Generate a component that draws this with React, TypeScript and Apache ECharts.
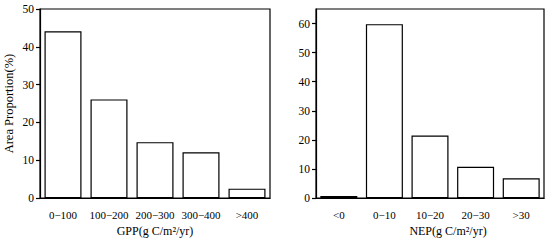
import React, { useEffect, useRef } from "react";
import * as echarts from "echarts";

const gppCategories = ["0−100", "100−200", "200−300", "300−400", ">400"];
const gppValues = [44.1, 26.1, 14.8, 12.1, 2.5];
const nepCategories = ["<0", "0−10", "10−20", "20−30", ">30"];
const nepValues = [0.7, 59.8, 21.5, 10.8, 6.8];
const gppTicks = [0, 10, 20, 30, 40, 50];
const nepTicks = [0, 10, 20, 30, 40, 50, 60];

const FONT = "Liberation Serif";

export default function App() {
  const ref = useRef<HTMLDivElement>(null);
  useEffect(() => {
    document.body.style.margin = "0";
    const chart = echarts.init(ref.current!, null, { renderer: "svg" });
    const axisLine = { show: true, lineStyle: { color: "#000", width: 1.2 } };
    const xLabel = { color: "#000", fontFamily: FONT, fontSize: 11, margin: 11, interval: 0, hideOverlap: false };
    const yLabel = { color: "#000", fontFamily: FONT, fontSize: 11.5, margin: 6 };
    const barStyle = { color: "#fff", borderColor: "#000", borderWidth: 1.2 };
    chart.setOption({
      animation: false,
      backgroundColor: "#fff",
      grid: [
        { left: 40, right: 280, top: 9, bottom: 41, show: true, borderColor: "#000", borderWidth: 1.2, backgroundColor: "transparent" },
        { left: 316, right: 6, top: 9, bottom: 41, show: true, borderColor: "#000", borderWidth: 1.2, backgroundColor: "transparent" },
      ],
      xAxis: [
        {
          type: "category", gridIndex: 0, data: gppCategories,
          axisLine, axisTick: { show: false }, axisLabel: xLabel,
          name: "GPP(g C/m²/yr)", nameLocation: "middle", nameGap: 24,
          nameTextStyle: { color: "#000", fontFamily: FONT, fontSize: 12 },
        },
        {
          type: "category", gridIndex: 1, data: nepCategories,
          axisLine, axisTick: { show: false }, axisLabel: xLabel,
          name: "NEP(g C/m²/yr)", nameLocation: "middle", nameGap: 24,
          nameTextStyle: { color: "#000", fontFamily: FONT, fontSize: 12, padding: [0, 0, 0, 36] },
        },
      ],
      yAxis: [
        {
          type: "value", gridIndex: 0, min: 0, max: 50, interval: 10,
          axisLine, splitLine: { show: false },
          axisTick: { show: true, length: 4, lineStyle: { color: "#000", width: 1.2 }, customValues: gppTicks },
          axisLabel: { ...yLabel, customValues: gppTicks },
          name: "Area Proportion(%)", nameLocation: "middle", nameGap: 25,
          nameTextStyle: { color: "#000", fontFamily: FONT, fontSize: 12.5 },
        },
        {
          type: "value", gridIndex: 1, min: 0, max: 65, interval: 10,
          axisLine, splitLine: { show: false },
          axisTick: { show: true, length: 4, lineStyle: { color: "#000", width: 1.2 }, customValues: nepTicks },
          axisLabel: { ...yLabel, customValues: nepTicks },
        },
      ],
      series: [
        { type: "bar", xAxisIndex: 0, yAxisIndex: 0, data: gppValues, barWidth: 37, itemStyle: barStyle },
        { type: "bar", xAxisIndex: 1, yAxisIndex: 1, data: nepValues, barWidth: 37, itemStyle: barStyle },
      ],
    });
    return () => chart.dispose();
  }, []);
  return <div ref={ref} style={{ position: "absolute", left: 0, top: 0, width: 550, height: 242 }} />;
}
